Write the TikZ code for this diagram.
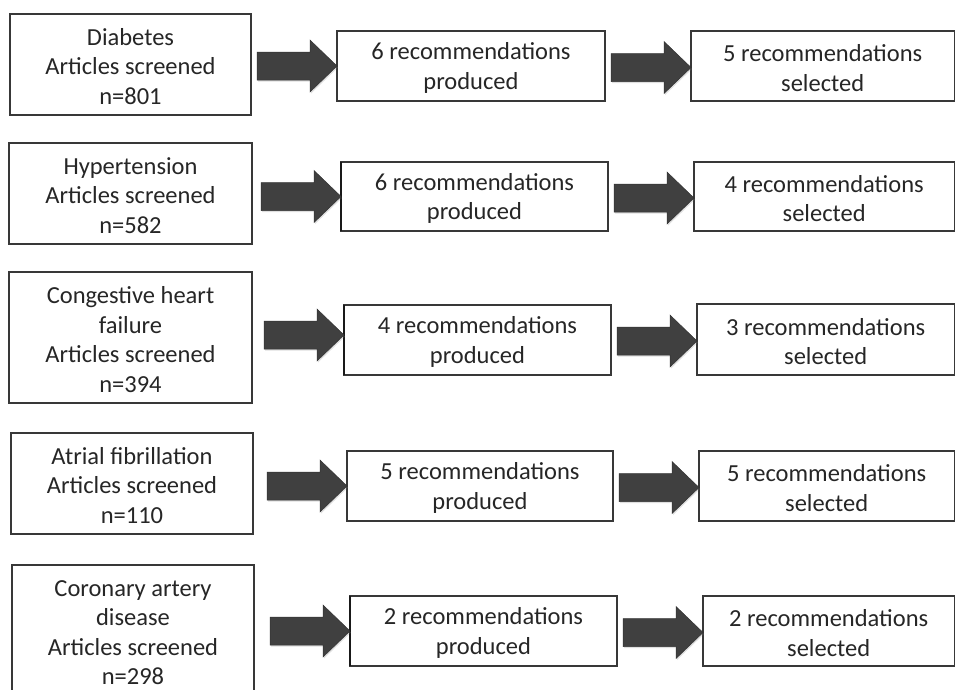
\documentclass[tikz,border=0pt]{standalone}
\usepackage{fontspec}
\setmainfont{Carlito}
\usetikzlibrary{calc,shadows}
\definecolor{arrowgray}{HTML}{404040}
\definecolor{edgegray}{HTML}{383838}
\tikzset{
  box/.style={draw=edgegray, line width=1.2pt, fill=white, rectangle, inner sep=0pt, outer sep=0pt},
  txt/.style={align=center, inner sep=0pt, text=black!85, font=\fontsize{24.5}{29.5}\selectfont},
  bigarrow/.style={fill=arrowgray, draw=black!80, line width=0.5pt, line join=miter,
    drop shadow={shadow xshift=1pt, shadow yshift=-1.5pt, opacity=0.25}},
  heavyedge/.style={draw=black!90, line width=2.2pt}
}
% box with its text: #1 name, #2 centre, #3 width, #4 height, #5 text
\newcommand{\tbox}[5]{%
  \node[box, minimum width=#3pt, minimum height=#4pt] (#1) at #2 {};
  \node[txt] (#1t) at ($(#1.center)+(0,2)$) {#5};}
% #1 vertical offset, #2 source node, #3 target node
\newcommand{\bigarrow}[3][0]{%
  \path[bigarrow] ($(#3.west)+(-80,#1-14)$) -- ++(53,0) -- ++(0,-12) -- ($(#3.west)+(0,#1)$)
    -- ($(#3.west)+(-27,#1+26)$) -- ++(0,-12) -- ++(-53,0) -- cycle;}
\begin{document}
\begin{tikzpicture}[x=1pt,y=-1pt]
\useasboundingbox (0,0) rectangle (955,689);
% Row 1
\tbox{l1}{(130.5,64.5)}{241}{101}{Diabetes\\Articles screened\\n=801}
\tbox{m1}{(471,66)}{268}{70}{6 recommendations\\produced}
\tbox{r1}{(822.65,66)}{263.3}{70}{5 recommendations\\selected}
% Row 2
\tbox{l2}{(130.5,193.5)}{243}{101}{Hypertension\\Articles screened\\n=582}
\tbox{m2}{(474.5,196.5)}{267}{69}{6 recommendations\\produced}
\tbox{r2}{(824.15,196.5)}{260.3}{69}{4 recommendations\\selected}
% Row 3
\tbox{l3}{(130.5,337.5)}{243}{131}{Congestive heart\\failure\\Articles screened\\n=394}
\tbox{m3}{(477.5,340)}{267}{70}{4 recommendations\\produced}
\tbox{r3}{(825.65,339.5)}{257.3}{71}{3 recommendations\\selected}
% Row 4
\tbox{l4}{(132,483.5)}{242}{101}{Atrial fibrillation\\Articles screened\\n=110}
\tbox{m4}{(480,486)}{266}{70}{5 recommendations\\produced}
\tbox{r4}{(826.65,486)}{255.3}{70}{5 recommendations\\selected}
% Row 5
\tbox{l5}{(133,630.5)}{242}{131}{Coronary artery\\disease\\Articles screened\\n=298}
\tbox{m5}{(483.5,631)}{267}{70}{2 recommendations\\produced}
\tbox{r5}{(828.65,631)}{251.3}{70}{2 recommendations\\selected}
% heavier left edges
\draw[heavyedge] (m2.north west) -- (m2.south west);
\draw[heavyedge] (m3.north west) -- (m3.south west);
\draw[heavyedge] (m5.north west) -- (m5.south west);
% arrows
\bigarrow{l1}{m1}
\bigarrow[1.5]{m1}{r1}
\bigarrow{l2}{m2}
\bigarrow[1.5]{m2}{r2}
\bigarrow[-5]{l3}{m3}
\bigarrow[1.5]{m3}{r3}
\bigarrow{l4}{m4}
\bigarrow[1.5]{m4}{r4}
\bigarrow{l5}{m5}
\bigarrow[1.5]{m5}{r5}
\end{tikzpicture}
\end{document}
